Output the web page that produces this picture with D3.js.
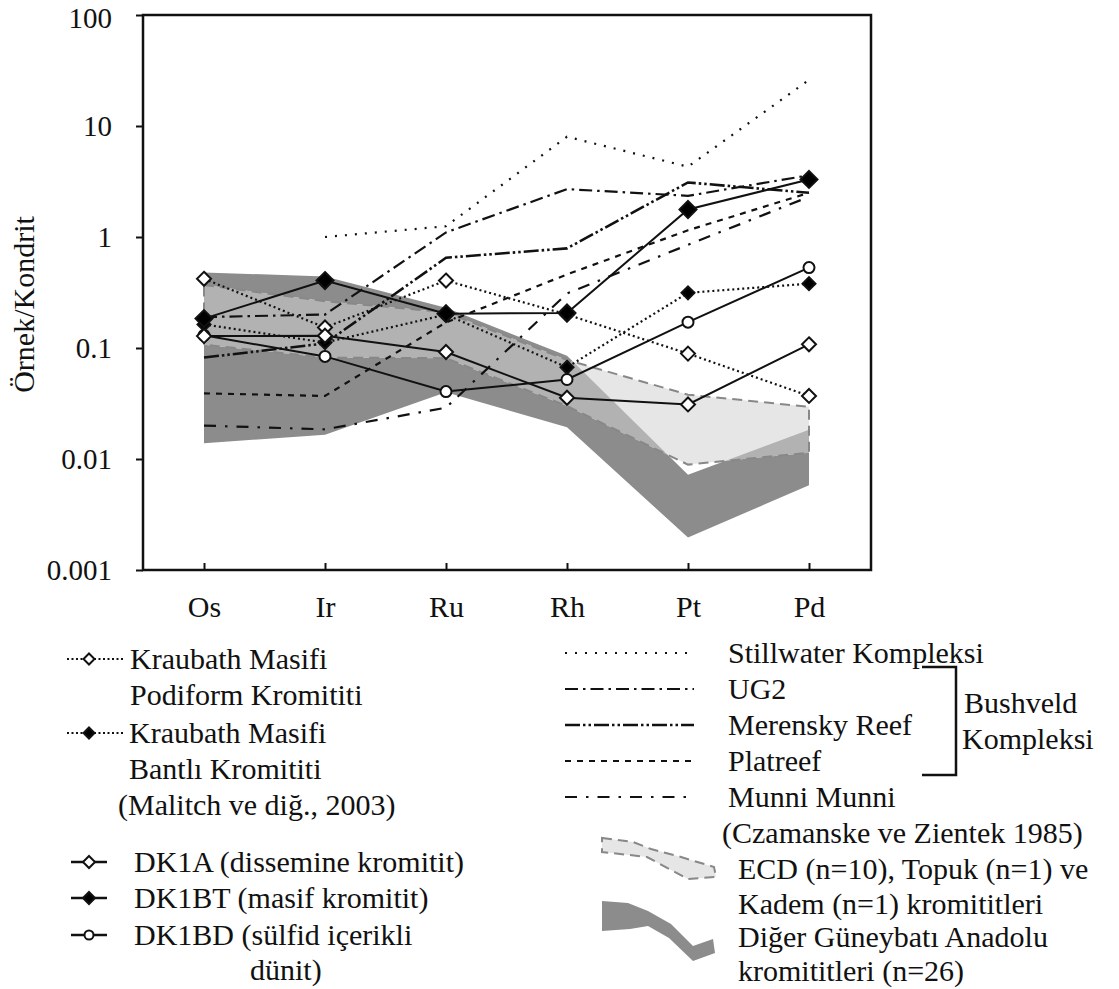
<!DOCTYPE html>
<html>
<head>
<meta charset="utf-8">
<script src="https://cdn.jsdelivr.net/npm/d3@7"></script>
<style>
  body { margin: 0; background: #fff; }
  svg { display: block; }
  text { font-family: "Liberation Serif", "Times New Roman", serif; fill: #111; }
</style>
</head>
<body>
<svg id="chart" width="1119" height="989"></svg>
<script>
// elements (x categories) and y ticks
const elements = ['Os', 'Ir', 'Ru', 'Rh', 'Pt', 'Pd'];
const yTicks = [0.001, 0.01, 0.1, 1, 10, 100];

// reference deposits (Czamanske & Zientek 1985)
const stillwater = [null, 1.0, 1.25, 8.0, 4.3, 26];
const ug2 = [0.19, 0.2, 1.1, 2.7, 2.35, 3.6];
const merensky = [0.082, 0.11, 0.65, 0.79, 3.1, 2.5];
const platreef = [0.039, 0.037, 0.17, 0.46, 1.15, 2.5];
const munniMunni = [0.020, 0.0185, 0.029, 0.31, 0.85, 2.3];

// Kraubath (Malitch et al. 2003)
const kraubathPodiform = [0.42, 0.153, 0.405, 0.2, 0.089, 0.037];
const kraubathBantli = [0.163, 0.112, 0.2, 0.067, 0.314, 0.38];

// samples
const dk1a = [0.128, 0.129, 0.092, 0.0356, 0.031, 0.108];
const dk1bt = [0.184, 0.405, 0.204, 0.207, 1.77, 3.3];
const dk1bd = [0.13, 0.084, 0.0405, 0.052, 0.171, 0.53];

// fields
const digerUpper = [0.48, 0.44, 0.23, 0.085, 0.0072, 0.0183];
const digerLower = [0.0139, 0.0165, 0.040, 0.0193, 0.00196, 0.0058];
const ecdUpper = [0.37, 0.264, 0.21, 0.078, 0.038, 0.0295];
const ecdLower = [0.107, 0.082, 0.081, 0.030, 0.0089, 0.0114];

const FONT = 30;
const PLOT = { left: 143, right: 871, top: 15, bottom: 570 };

const svg = d3.select('#chart');

const x = d3.scalePoint()
  .domain(elements)
  .range([204, 809]);

const y = d3.scaleLog()
  .domain([0.001, 100])
  .range([PLOT.bottom, PLOT.top]);

const line = d3.line()
  .defined(d => d != null)
  .x((d, i) => x(elements[i]))
  .y(d => y(d));

function polygon(upper, lower) {
  const pts = upper.map((v, i) => [x(elements[i]), y(v)]);
  lower.slice().reverse().forEach((v, j) => {
    const i = lower.length - 1 - j;
    pts.push([x(elements[i]), y(v)]);
  });
  return 'M' + pts.map(p => p.join(',')).join('L') + 'Z';
}

// ---- fields ----
const digerPath = polygon(digerUpper, digerLower);
const ecdPath = polygon(ecdUpper, ecdLower);

svg.append('defs').append('clipPath').attr('id', 'clip-diger')
  .append('path').attr('d', digerPath);

const fields = svg.append('g').attr('class', 'fields');
fields.append('path').attr('d', digerPath).attr('fill', '#8c8c8c');
fields.append('path').attr('d', ecdPath).attr('fill', '#e6e6e6');
fields.append('path').attr('d', ecdPath).attr('fill', '#b2b2b2')
  .attr('clip-path', 'url(#clip-diger)');
fields.append('path').attr('d', ecdPath).attr('fill', 'none')
  .attr('stroke', '#888').attr('stroke-width', 2).attr('stroke-dasharray', '10,6');

// ---- series ----
const refSeries = [
  { name: 'Stillwater Kompleksi', values: stillwater, dash: '2,8', width: 2.2 },
  { name: 'UG2', values: ug2, dash: '13,5,2.5,5', width: 2.2 },
  { name: 'Merensky Reef', values: merensky, dash: '15,3,2.5,3,2.5,3', width: 2.6 },
  { name: 'Platreef', values: platreef, dash: '6,6', width: 2.2 },
  { name: 'Munni Munni', values: munniMunni, dash: '12,9,2.5,9', width: 2.2 }
];

const sampleSeries = [
  { name: 'kp', values: kraubathPodiform, dash: '2,3', width: 2.2, marker: 'diamond', fill: '#fff', size: 7 },
  { name: 'kb', values: kraubathBantli, dash: '2,3', width: 2.2, marker: 'diamond', fill: '#000', size: 6.5 },
  { name: 'dk1a', values: dk1a, dash: null, width: 2, marker: 'diamond', fill: '#fff', size: 7 },
  { name: 'dk1bt', values: dk1bt, dash: null, width: 2, marker: 'diamond', fill: '#000', size: 8.5 },
  { name: 'dk1bd', values: dk1bd, dash: null, width: 2, marker: 'circle', fill: '#fff', size: 5.5 }
];

const lines = svg.append('g').attr('class', 'lines');
refSeries.concat(sampleSeries).forEach(s => {
  lines.append('path')
    .attr('d', line(s.values))
    .attr('fill', 'none')
    .attr('stroke', '#111')
    .attr('stroke-width', s.width)
    .attr('stroke-dasharray', s.dash);
});

function drawMarker(g, type, cx, cy, size, fill) {
  if (type === 'circle') {
    g.append('circle').attr('cx', cx).attr('cy', cy).attr('r', size)
      .attr('fill', fill).attr('stroke', '#111').attr('stroke-width', 2);
  } else {
    g.append('path')
      .attr('d', `M${cx},${cy - size}L${cx + size},${cy}L${cx},${cy + size}L${cx - size},${cy}Z`)
      .attr('fill', fill).attr('stroke', '#111').attr('stroke-width', 2);
  }
}

// marker stacking: circles at the bottom, DK1BT on top
const markerOrder = ['dk1bd', 'kp', 'kb', 'dk1a', 'dk1bt'];
const markers = svg.append('g').attr('class', 'markers');
markerOrder.map(n => sampleSeries.find(s => s.name === n)).forEach(s => {
  s.values.forEach((v, i) => {
    if (v == null) return;
    drawMarker(markers, s.marker, x(elements[i]), y(v), s.size, s.fill);
  });
});

// ---- axes & frame ----
const yAxis = svg.append('g')
  .attr('transform', `translate(${PLOT.left},0)`)
  .call(d3.axisLeft(y).tickValues(yTicks).tickFormat(d => String(d))
    .tickSize(7).tickSizeOuter(0).tickPadding(24));
yAxis.select('.domain').remove();
yAxis.selectAll('line').attr('stroke', '#111').attr('stroke-width', 2);
yAxis.selectAll('text').attr('font-size', 29).attr('font-family', null)
  .attr('dy', d => d === 100 ? '0.42em' : '0.32em');

const xAxis = svg.append('g')
  .attr('transform', `translate(0,${PLOT.bottom})`)
  .call(d3.axisBottom(x).tickSize(-7).tickSizeOuter(0).tickPadding(26));
xAxis.select('.domain').remove();
xAxis.selectAll('line').attr('stroke', '#111').attr('stroke-width', 2);
xAxis.selectAll('text').attr('font-size', FONT).attr('font-family', null);

svg.append('rect')
  .attr('x', PLOT.left).attr('y', PLOT.top)
  .attr('width', PLOT.right - PLOT.left).attr('height', PLOT.bottom - PLOT.top)
  .attr('fill', 'none').attr('stroke', '#111').attr('stroke-width', 2.5);

svg.append('text')
  .attr('transform', `translate(34,${(PLOT.top + PLOT.bottom) / 2 + 12}) rotate(-90)`)
  .attr('text-anchor', 'middle')
  .attr('font-size', FONT)
  .text('Örnek/Kondrit');

// ---- left legend ----
const legL = svg.append('g').attr('class', 'legend-left');
function text(g, tx, ty, str, anchor) {
  return g.append('text').attr('x', tx).attr('y', ty).attr('dy', '0.32em')
    .attr('font-size', FONT).attr('text-anchor', anchor || 'start').text(str);
}

const leftRows = [
  { y: 659, label: 'Kraubath Masifi', s: sampleSeries[0], lx: 130, sample: 'dotted' },
  { y: 695, label: 'Podiform Kromititi', lx: 130 },
  { y: 733, label: 'Kraubath Masifi', s: sampleSeries[1], lx: 129, sample: 'dotted' },
  { y: 769, label: 'Bantlı Kromititi', lx: 129 },
  { y: 805, label: '(Malitch ve diğ., 2003)', lx: 118 },
  { y: 862, label: 'DK1A (dissemine kromitit)', s: sampleSeries[2], lx: 134, sample: 'solid' },
  { y: 898, label: 'DK1BT (masif kromitit)', s: sampleSeries[3], lx: 134, sample: 'solid' },
  { y: 935, label: 'DK1BD (sülfid içerikli', s: sampleSeries[4], lx: 134, sample: 'solid' },
  { y: 970, label: 'dünit)', lx: 250 }
];
leftRows.forEach(r => {
  text(legL, r.lx, r.y, r.label);
  if (!r.s) return;
  if (r.sample === 'dotted') {
    legL.append('line').attr('x1', 67).attr('x2', 123).attr('y1', r.y).attr('y2', r.y)
      .attr('stroke', '#111').attr('stroke-width', 2).attr('stroke-dasharray', '2,2.5');
    drawMarker(legL, r.s.marker, 89, r.y, 5.5, r.s.fill);
  } else {
    legL.append('line').attr('x1', 71).attr('x2', 107).attr('y1', r.y).attr('y2', r.y)
      .attr('stroke', '#111').attr('stroke-width', 2.5);
    drawMarker(legL, r.s.marker, 89, r.y, r.s.marker === 'circle' ? 4.5 : 6, r.s.fill);
  }
});

// ---- right legend ----
const legR = svg.append('g').attr('class', 'legend-right');
const rightRowsY = [653, 689, 725, 761, 797];
refSeries.forEach((s, i) => {
  legR.append('line').attr('x1', 565).attr('x2', 694)
    .attr('y1', rightRowsY[i]).attr('y2', rightRowsY[i])
    .attr('stroke', '#111').attr('stroke-width', s.width).attr('stroke-dasharray', s.dash);
  text(legR, 728, rightRowsY[i], s.name);
});
text(legR, 722, 833, '(Czamanske ve Zientek 1985)');

legR.append('path')
  .attr('d', `M922,${rightRowsY[0] + 14}H956V${rightRowsY[3] + 14}H922`)
  .attr('fill', 'none').attr('stroke', '#111').attr('stroke-width', 2.5);
text(legR, 964, 703, 'Bushveld');
text(legR, 962, 739, 'Kompleksi');

// swatches
const ecdY = 869;
const ecdSwatch = [[0, 0], [31, 4], [49, 11], [79, 19], [112, 29], [114, 39], [86, 41], [45, 19], [0, 14]];
legR.append('path')
  .attr('d', 'M' + ecdSwatch.map(p => [602 + p[0], ecdY - 31 + p[1]].join(',')).join('L') + 'Z')
  .attr('fill', '#e6e6e6').attr('stroke', '#888').attr('stroke-width', 2).attr('stroke-dasharray', '10,6');
text(legR, 738, ecdY, 'ECD (n=10), Topuk (n=1) ve');
text(legR, 738, ecdY + 35, 'Kadem (n=1) kromititleri');

const digerY = 937;
const digerSwatch = [[0, 0], [26, 2], [46, 10], [69, 23], [91, 45], [111, 38], [113, 52], [91, 60], [67, 37], [46, 25], [28, 28], [0, 30]];
legR.append('path')
  .attr('d', 'M' + digerSwatch.map(p => [602 + p[0], digerY - 36 + p[1]].join(',')).join('L') + 'Z')
  .attr('fill', '#8c8c8c');
text(legR, 738, digerY, 'Diğer Güneybatı Anadolu');
text(legR, 738, digerY + 34, 'kromititleri (n=26)');
</script>
</body>
</html>
